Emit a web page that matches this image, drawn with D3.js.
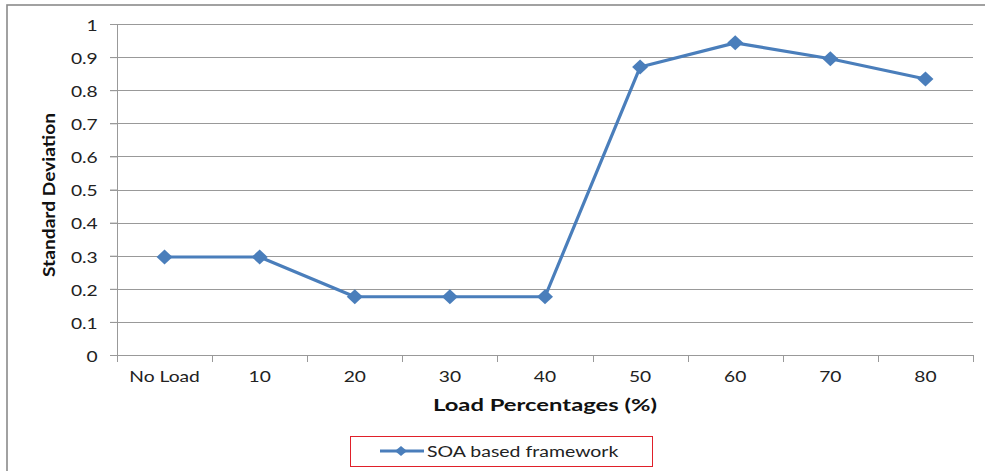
<!DOCTYPE html>
<html><head><meta charset="utf-8">
<script src="https://cdn.jsdelivr.net/npm/d3@7"></script>
<style>body{margin:0;background:#fff}svg{display:block}</style>
</head><body>
<svg id="c" width="985" height="471"></svg>
<script>
const categories = ["No Load","10","20","30","40","50","60","70","80"];
const values = [0.296,0.296,0.176,0.176,0.176,0.870,0.943,0.895,0.834];
const yTicks = [0,0.1,0.2,0.3,0.4,0.5,0.6,0.7,0.8,0.9,1];
const seriesName = "SOA based framework";
const xTitle = "Load Percentages (%)";
const yTitle = "Standard Deviation";

const svg = d3.select("#c");
const font = "Lato, 'Open Sans', sans-serif";
const L = 117, R = 973, T = 24, B = 355;
const blue = "#4a7ebb";
const grid = "#999999";
const SX = 1.28;

// outer border
svg.append("rect").attr("x",7).attr("y",5).attr("width",990).attr("height",480)
  .attr("fill","none").attr("stroke","#8a8a8a").attr("stroke-width",1.6);

const x = d3.scaleBand().domain(categories).range([L,R]);
const y = d3.scaleLinear().domain([0,1]).range([B,T]);

// gridlines
svg.append("g").selectAll("line").data(yTicks).join("line")
  .attr("x1",L-7).attr("x2",R).attr("y1",d=>Math.round(y(d))+0.5).attr("y2",d=>Math.round(y(d))+0.5)
  .attr("stroke",grid).attr("stroke-width",1);

// y axis
const ya = svg.append("g").attr("transform",`translate(${L},0)`)
  .call(d3.axisLeft(y).tickValues(yTicks).tickSize(7).tickPadding(12).tickFormat(d3.format("")));
ya.select(".domain").attr("stroke",grid);
ya.selectAll(".tick line").attr("stroke",grid);
ya.selectAll("text").attr("font-family",font).attr("font-size",15).attr("fill","#222")
  .attr("x",0).attr("dy","0.42em").attr("transform",`translate(-19.3,0) scale(${SX},1)`);

// x axis
const xa = svg.append("g").attr("transform",`translate(0,${B})`)
  .call(d3.axisBottom(x).tickSize(0).tickPadding(0));
xa.select(".domain").attr("stroke",grid).attr("d",`M${L},0.5H${R}`);
xa.selectAll("text").attr("font-family",font).attr("font-size",15).attr("fill","#222")
  .attr("y",27).attr("dy",0).attr("transform",`scale(${SX},1)`);
// band boundary ticks
const bounds = categories.map(c=>x(c)).concat([R]);
xa.append("g").selectAll("line").data(bounds).join("line")
  .attr("x1",d=>Math.round(d)+0.5).attr("x2",d=>Math.round(d)+0.5).attr("y1",0).attr("y2",7)
  .attr("stroke",grid);

// line
const cx = c => x(c) + x.bandwidth()/2;
svg.append("path").datum(values)
  .attr("d", d3.line().x((d,i)=>cx(categories[i])).y(d=>y(d)))
  .attr("fill","none").attr("stroke",blue).attr("stroke-width",3.2).attr("stroke-linejoin","round");
const diamond = (w,h) => `M0,${-h}L${w},0L0,${h}L${-w},0Z`;
svg.append("g").selectAll("path").data(values).join("path")
  .attr("transform",(d,i)=>`translate(${cx(categories[i])},${y(d)})`)
  .attr("d",diamond(8,7.5)).attr("fill",blue);

// titles
svg.append("text").attr("transform",`translate(${(L+R)/2},411) scale(1.4,1)`).attr("text-anchor","middle")
  .attr("font-family",font).attr("font-weight","bold").attr("font-size",17).attr("fill","#111")
  .text(xTitle);
svg.append("text").attr("transform",`translate(55,195) rotate(-90)`).attr("text-anchor","middle")
  .attr("font-family",font).attr("font-weight","bold").attr("font-size",17).attr("fill","#111")
  .attr("textLength",164).attr("lengthAdjust","spacingAndGlyphs")
  .text(yTitle);

// legend
const lg = svg.append("g");
lg.append("rect").attr("x",350.5).attr("y",436.5).attr("width",302).attr("height",30)
  .attr("fill","#fff").attr("stroke","#e0202a").attr("stroke-width",1);
lg.append("line").attr("x1",380).attr("x2",424).attr("y1",451).attr("y2",451)
  .attr("stroke",blue).attr("stroke-width",3);
lg.append("path").attr("transform","translate(401,451)").attr("d",diamond(6,5)).attr("fill",blue);
lg.append("text").attr("transform","translate(427,456.5) scale(1.3,1)").attr("font-family",font).attr("font-size",15)
  .attr("fill","#222").text(seriesName);
</script>
</body></html>
